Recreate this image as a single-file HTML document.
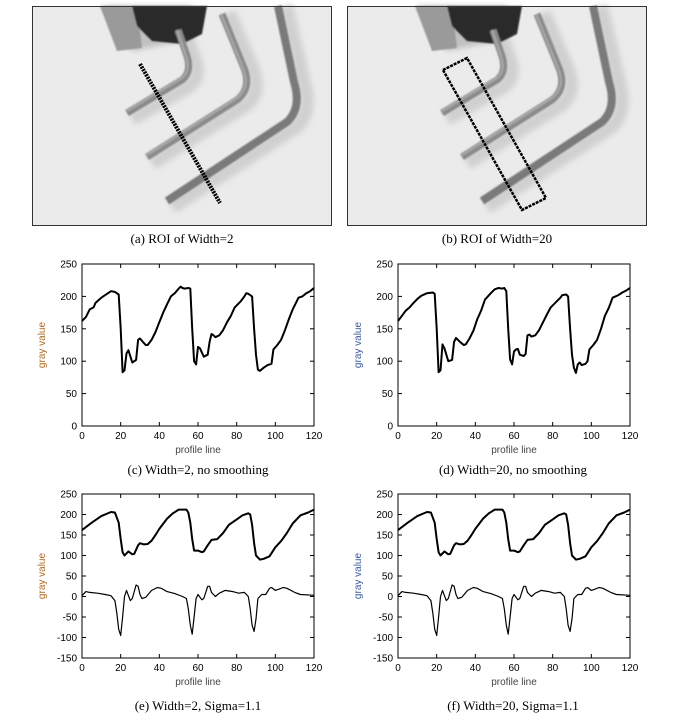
<!DOCTYPE html>
<html><head><meta charset="utf-8"><style>
html,body{margin:0;padding:0;background:#fff;}
svg{display:block;}
.t{font-family:"Liberation Sans",sans-serif;font-size:10px;fill:#000;}
.c{font-family:"Liberation Serif",serif;font-size:13px;fill:#000;}
</style></head><body>
<svg id="s" width="679" height="722" xmlns="http://www.w3.org/2000/svg">
<defs>
<filter id="bl"><feGaussianBlur stdDeviation="3"/></filter>
<filter id="bl1"><feGaussianBlur stdDeviation="0.8"/></filter>
<g id="photo">
<rect x="0" y="0" width="300" height="220" fill="#ebebeb"/>
<g filter="url(#bl)">
<path d="M100,113 L157,80 Q170,70 162,52 L152,22" stroke="#d0d0d0" stroke-width="14" fill="none"/>
<path d="M120,157 L214,99 Q230,86 220,62 L197,7" stroke="#d0d0d0" stroke-width="14" fill="none"/>
<path d="M140,201 L264,121 Q280,106 272,77 L254,0" stroke="#d0d0d0" stroke-width="14" fill="none"/>
<path d="M70,0 L160,0 L150,35 L100,45 Z" fill="#c0c0c0"/>
</g>
<g filter="url(#bl1)">
<path d="M68,0 L105,0 L110,42 L85,45 Z" fill="#9a9a9a"/>
<path d="M100,0 L175,0 L170,28 L150,38 L120,35 L105,20 Z" fill="#2a2a2a"/>
<path d="M95,107 L150,74 Q160,66 155,50 L146,24" stroke="#8a8a8a" stroke-width="7" fill="none"/>
<path d="M115,151 L205,94 Q220,82 212,62 L190,8" stroke="#8a8a8a" stroke-width="7" fill="none"/>
<path d="M135,195 L255,116 Q270,102 262,76 L246,0" stroke="#7a7a7a" stroke-width="8" fill="none"/>
<path d="M95,105 L150,72 Q159,65 154,50 L145,24" stroke="#aaa" stroke-width="2" fill="none"/>
<path d="M115,149 L205,92 Q219,81 211,62 L189,8" stroke="#aaa" stroke-width="2" fill="none"/>
</g>
<rect x="0.5" y="0.5" width="299" height="219" fill="none" stroke="#333" stroke-width="1"/>
</g>
</defs>
<use href="#photo" x="32" y="6"/>
<use href="#photo" x="347" y="6"/>
<line x1="140" y1="64" x2="220" y2="203" stroke="#000" stroke-width="4" stroke-dasharray="2,1"/>
<polygon points="443,70 467,58 546,198 522,210" fill="none" stroke="#000" stroke-width="2.5" stroke-dasharray="3,1"/>
<text class="c" x="182" y="243" text-anchor="middle">(a) ROI of Width=2</text>
<text class="c" x="497" y="243" text-anchor="middle">(b) ROI of Width=20</text>
<text class="c" x="198" y="474" text-anchor="middle">(c) Width=2, no smoothing</text>
<text class="c" x="513" y="474" text-anchor="middle">(d) Width=20, no smoothing</text>
<text class="c" x="198" y="710" text-anchor="middle">(e) Width=2, Sigma=1.1</text>
<text class="c" x="513" y="710" text-anchor="middle">(f) Width=20, Sigma=1.1</text>
</svg>
<script>
var NS="http://www.w3.org/2000/svg",S=document.getElementById('s');
function el(t,a,txt){var e=document.createElementNS(NS,t);for(var k in a)e.setAttribute(k,a[k]);if(txt!=null)e.textContent=txt;S.appendChild(e);return e;}
var raw=[0,162,2,168,4,180,6,183,7,190,10,198,12,202,15,208,17,207,19,203,20,150,21,83,22,86,23,112,24,117,26,98,28,102,29,133,30,135,32,128,33,125,34,125,36,133,38,145,40,160,42,175,44,188,46,200,48,205,50,212,51,215,52,213,53,212,55,213,56,212,57,150,58,100,59,95,60,122,61,120,63,107,65,110,66,130,67,142,68,140,69,137,71,140,73,148,75,160,77,170,79,183,82,192,84,200,85,205,86,204,88,200,89,150,90,110,91,87,92,85,94,90,96,94,98,96,99,118,101,125,103,133,105,148,107,165,109,180,112,198,114,200,116,205,118,208,120,213];
var raw2=[0,162,2,170,4,178,6,183,8,190,10,196,12,201,15,205,18,206,19,204,20,150,21,83,22,86,23,126,24,120,26,100,28,102,29,130,30,136,32,130,34,125,35,126,37,135,39,147,41,165,43,178,45,195,48,205,50,211,52,213,54,212,55,213,56,208,57,150,58,103,59,95,60,115,61,118,62,119,63,110,65,108,66,111,67,140,68,141,69,138,71,140,73,148,75,160,77,172,79,183,82,192,84,198,85,202,87,203,88,200,89,150,90,110,91,90,92,82,93,95,94,98,95,94,97,96,98,100,99,118,101,125,103,133,105,150,107,170,109,182,111,198,114,202,116,206,118,209,120,213];
var sm=[0,162,5,180,10,196,15,206,17,205,19,180,20,140,21,108,22,100,24,110,26,103,27,104,29,125,30,130,32,127,34,128,36,136,38,150,40,165,44,190,47,203,50,212,54,212,55,205,56,180,57,140,58,112,60,112,62,108,63,110,65,125,67,138,70,140,73,155,76,175,80,188,83,198,86,203,87,200,88,175,89,130,90,100,92,90,94,92,97,98,100,120,103,135,106,155,109,178,113,198,117,205,120,212];
var dv=[0,2,2,12,4,10,8,8,12,5,15,2,17,-10,18,-40,19,-80,20,-95,21,-50,22,0,23,15,25,-10,26,-5,28,28,29,25,30,5,31,-5,33,-2,36,15,39,22,41,20,44,12,48,7,52,0,54,-5,55,-30,56,-70,57,-92,58,-50,59,-5,60,5,62,-8,63,-5,65,25,66,25,67,10,69,0,71,8,74,15,78,12,81,8,84,10,86,0,87,-30,88,-70,89,-85,90,-55,91,-5,93,5,95,5,97,20,98,22,100,15,102,18,104,22,106,20,110,10,113,5,120,3];
function plot(x0,y0,y1,ymin,ymax,step,series,labcol){
 var w=232,fx=function(v){return x0+v/120*w},fy=function(v){return y1-(v-ymin)/(ymax-ymin)*(y1-y0)};
 el('rect',{x:x0,y:y0,width:w,height:y1-y0,fill:'none',stroke:'#000','stroke-width':1});
 for(var v=ymin;v<=ymax;v+=step){var y=fy(v);el('line',{x1:x0,y1:y,x2:x0+4,y2:y,stroke:'#000'});el('line',{x1:x0+w,y1:y,x2:x0+w-4,y2:y,stroke:'#000'});el('text',{class:'t',x:x0-5,y:y+3.5,'text-anchor':'end'},v);}
 for(var v=0;v<=120;v+=20){var x=fx(v);el('line',{x1:x,y1:y1,x2:x,y2:y1-4,stroke:'#000'});el('line',{x1:x,y1:y0,x2:x,y2:y0+4,stroke:'#000'});el('text',{class:'t',x:x,y:y1+13,'text-anchor':'middle'},v);}
 el('text',{class:'t',x:x0+w/2,y:y1+27,'text-anchor':'middle',style:'fill:#444'},'profile line');
 var lx=x0-37,ly=(y0+y1)/2;el('text',{class:'t',x:lx,y:ly,'text-anchor':'middle',transform:'rotate(-90 '+lx+' '+ly+')',style:'fill:'+labcol},'gray value');
 series.forEach(function(s){var d='';for(var i=0;i<s[0].length;i+=2)d+=(i?'L':'M')+fx(s[0][i]).toFixed(1)+','+fy(s[0][i+1]).toFixed(1);el('path',{d:d,fill:'none',stroke:'#000','stroke-width':s[1],'stroke-linejoin':'round'});});
}
plot(82,264,426,0,250,50,[[raw,2]],'#b06a20');
plot(398,264,426,0,250,50,[[raw2,2]],'#3a5a9a');
plot(82,494,658,-150,250,50,[[sm,2],[dv,1.2]],'#b06a20');
plot(398,494,658,-150,250,50,[[sm,2],[dv,1.2]],'#3a5a9a');
</script>
</body></html>
